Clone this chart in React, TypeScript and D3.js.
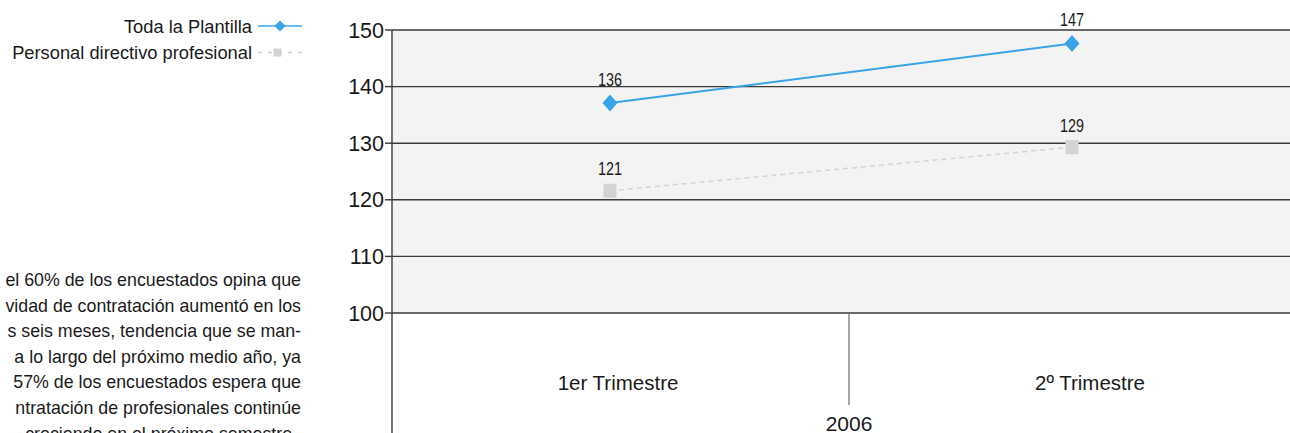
import React from "react";
import * as d3 from "d3";

const categories = ["1er Trimestre", "2º Trimestre"];
const groupLabel = "2006";
const seriesNames = ["Toda la Plantilla", "Personal directivo profesional"];
const plantillaValues = [137.1, 147.6];
const directivoValues = [121.6, 129.3];
const plantillaLabels = ["136", "147"];
const directivoLabels = ["121", "129"];
const yTicks = [100, 110, 120, 130, 140, 150];
const paragraph = [
  "el 60% de los encuestados opina que",
  "vidad de contratación aumentó en los",
  "s seis meses, tendencia que se man-",
  "a lo largo del próximo medio año, ya",
  "57% de los encuestados espera que",
  "ntratación de profesionales continúe",
  "creciendo en el próximo semestre.",
];

const W = 1290;
const H = 433;
const plotLeft = 392;
const plotRight = 1290;
const plotTop = 30;
const plotBottom = 313;
const BLUE = "#38a4e6";
const GREY = "#d3d3d3";
const GRID = "#3a3a3a";
const SANS = "'Liberation Sans', Arial, sans-serif";

export default function App() {
  const y = d3.scaleLinear().domain([100, 150]).range([plotBottom, plotTop]);
  const xPt = d3.scalePoint<string>().domain(categories).range([610, 1072]);
  const xLbl = d3.scalePoint<string>().domain(categories).range([618, 1090]);
  const band = d3.scaleBand<string>().domain(categories).range([plotLeft, 1306]);

  const line = d3
    .line<number>()
    .x((_, i) => xPt(categories[i]) as number)
    .y((d) => y(d));

  const diamond = (cx: number, cy: number, w: number, h: number) =>
    `M${cx},${cy - h / 2}L${cx + w / 2},${cy}L${cx},${cy + h / 2}L${cx - w / 2},${cy}Z`;

  const dividerX = band(categories[1]) as number;

  return (
    <svg
      width={W}
      height={H}
      style={{ position: "absolute", left: 0, top: 0, background: "#fff" }}
    >
      {/* legend */}
      <g fontFamily={SANS} fontSize={18.3} fill="#1a1a1a">
        <text x={252} y={32.5} textAnchor="end">{seriesNames[0]}</text>
        <line x1={258} x2={302} y1={26} y2={26} stroke={BLUE} strokeWidth={1.5} />
        <path d={diamond(280, 26, 11, 11)} fill={BLUE} />
        <text x={252} y={58.5} textAnchor="end">{seriesNames[1]}</text>
        <line x1={258} x2={302} y1={52.5} y2={52.5} stroke={GREY} strokeWidth={1.5} strokeDasharray="4 6" />
        <rect x={273.5} y={48.5} width={8} height={8} fill={GREY} />
      </g>

      {/* paragraph */}
      <g fontFamily={SANS} fontSize={17.8} fill="#1a1a1a">
        {paragraph.map((t, i) => (
          <text key={i} x={i === paragraph.length - 1 ? 297 : 301} y={286 + i * 25.6} textAnchor="end">
            {t}
          </text>
        ))}
      </g>

      {/* plot background */}
      <rect x={plotLeft} y={plotTop} width={plotRight - plotLeft} height={plotBottom - plotTop} fill="#f3f3f3" />

      {/* gridlines + y ticks */}
      {yTicks.map((t) => (
        <g key={t}>
          <line x1={plotLeft} x2={plotRight} y1={y(t)} y2={y(t)} stroke={GRID} strokeWidth={1.4} />
          <line x1={385} x2={plotLeft} y1={y(t)} y2={y(t)} stroke={GRID} strokeWidth={1.4} />
          <text x={384} y={y(t) + 7.5} textAnchor="end" fontFamily={SANS} fontSize={21.5} fill="#1a1a1a">
            {t}
          </text>
        </g>
      ))}

      {/* y axis line */}
      <line x1={plotLeft} x2={plotLeft} y1={plotTop} y2={H} stroke={GRID} strokeWidth={1.4} />

      {/* category divider */}
      <line x1={dividerX} x2={dividerX} y1={plotBottom} y2={405} stroke="#777" strokeWidth={1.3} />

      {/* category labels */}
      {categories.map((c) => (
        <text key={c} x={xLbl(c) as number} y={390} textAnchor="middle" fontFamily={SANS} fontSize={20.5} fill="#1a1a1a">
          {c}
        </text>
      ))}
      <text x={849} y={431} textAnchor="middle" fontFamily={SANS} fontSize={21} fill="#1a1a1a">
        {groupLabel}
      </text>

      {/* series: directivo (dashed grey) */}
      <path d={line(directivoValues) || ""} fill="none" stroke={GREY} strokeWidth={1.5} strokeDasharray="5 4" />
      {directivoValues.map((v, i) => {
        const cx = xPt(categories[i]) as number;
        return (
          <g key={i}>
            <rect x={cx - 6.5} y={y(v) - 7} width={13} height={14} fill={GREY} />
            <text
              x={cx}
              y={y(v) - 15.5}
              textAnchor="middle"
              fontFamily={SANS}
              fontSize={18}
              textLength={24}
              lengthAdjust="spacingAndGlyphs"
              fill="#1a1a1a"
            >
              {directivoLabels[i]}
            </text>
          </g>
        );
      })}

      {/* series: plantilla (blue) */}
      <path d={line(plantillaValues) || ""} fill="none" stroke={BLUE} strokeWidth={2} />
      {plantillaValues.map((v, i) => {
        const cx = xPt(categories[i]) as number;
        return (
          <g key={i}>
            <path d={diamond(cx, y(v), 15, 17)} fill={BLUE} />
            <text
              x={cx}
              y={y(v) - 17.5}
              textAnchor="middle"
              fontFamily={SANS}
              fontSize={18}
              textLength={24}
              lengthAdjust="spacingAndGlyphs"
              fill="#1a1a1a"
            >
              {plantillaLabels[i]}
            </text>
          </g>
        );
      })}
    </svg>
  );
}
